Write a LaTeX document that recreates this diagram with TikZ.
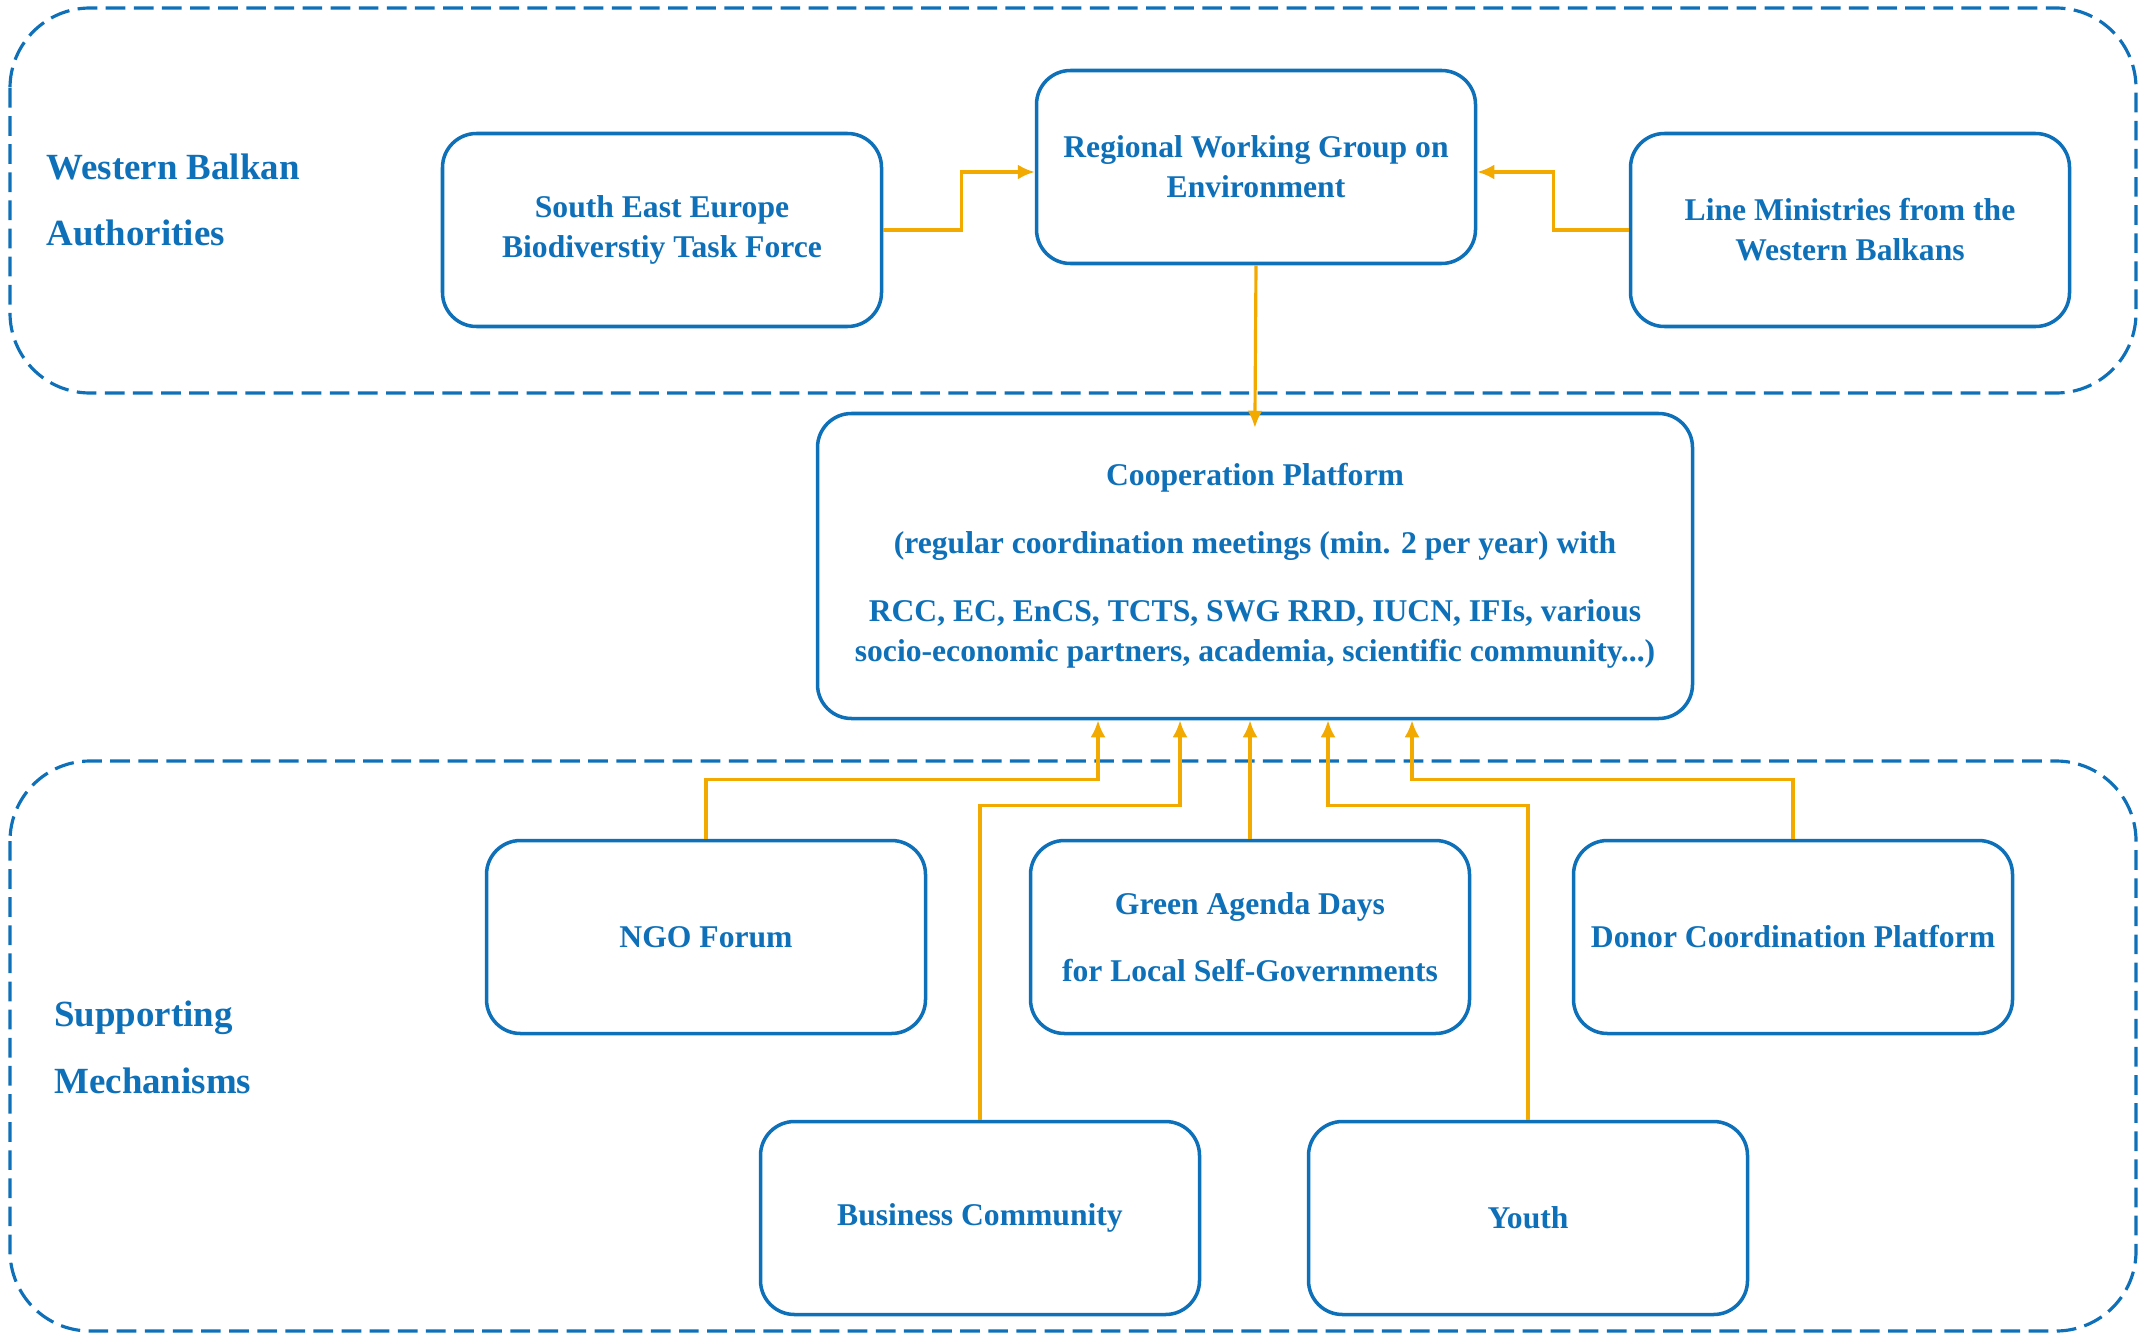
\documentclass[tikz,border=0pt]{standalone}
\usepackage{fontspec}
\setmainfont{Liberation Serif}
\usetikzlibrary{arrows.meta,positioning,calc}
\definecolor{wbblue}{HTML}{0E70B8}
\definecolor{wborange}{HTML}{F2AA00}

\begin{document}
\begin{tikzpicture}[
  box/.style={draw=wbblue, line width=1pt, rounded corners=0.34cm, minimum width=4.39cm, minimum height=1.93cm, align=center, text=wbblue, font=\bfseries\fontsize{9}{11.4}\selectfont},
  area/.style={draw=wbblue, line width=0.9pt, dash pattern=on 5.6pt off 2.4pt, rounded corners=0.8cm},
  lbl/.style={text=wbblue, align=left, anchor=west, font=\bfseries\fontsize{10.5}{19}\selectfont},
  link/.style={draw=wborange, line width=0.9pt, -{Latex[length=1.7mm,width=1.5mm]}}
]
\useasboundingbox (0,0) rectangle (21.51,-13.34);

% Two dashed areas
\draw[area] (0.10,-0.08) rectangle (21.36,-3.93);
\draw[area] (0.10,-7.61) rectangle (21.36,-13.31);
\node[lbl] (wba) at (0.34,-2.00) {Western Balkan\\Authorities};
\node[lbl] (sup) at (0.42,-10.47) {Supporting\\Mechanisms};

% Authorities
\node[box] (see) at (6.62,-2.30) {South East Europe\\Biodiverstiy Task Force};
\node[box] (rwg) at (12.56,-1.67) {Regional Working Group on\\Environment};
\node[box] (lm) at (18.50,-2.30) {Line Ministries from the\\Western Balkans};

\draw[link] (see.east) -- ++(0.78,0) |- ([yshift=-0.05cm]rwg.west);
\draw[link] (lm.west) -- ++(-0.75,0) |- ([yshift=-0.05cm]rwg.east);

% Cooperation platform
\node[box, minimum width=8.75cm, minimum height=3.05cm] (coop) at (12.55,-5.66)
  {Cooperation Platform\\[8pt]
   (regular coordination meetings (min. 2 per year) with\\[8pt]
   RCC, EC, EnCS, TCTS, SWG RRD, IUCN, IFIs, various\\
   socio-economic partners, academia, scientific community...)};
\draw[link, shorten >=-1.6mm] (rwg.south) -- (coop.north);

% Supporting mechanisms
\node[box] (ngo) at (7.06,-9.37) {NGO Forum};
\node[box] (gad) at (12.50,-9.37) {Green Agenda Days\\[7.6pt]for Local Self-Governments};
\node[box] (donor) at (17.93,-9.37) {Donor Coordination Platform};
\node[box] (bus) at (9.80,-12.18) {Business Community};
\node[box] (youth) at (15.28,-12.18) {Youth};

\coordinate (in1) at ([xshift=-1.57cm]coop.south);
\coordinate (in2) at ([xshift=-0.75cm]coop.south);
\coordinate (in4) at ([xshift=0.73cm]coop.south);
\coordinate (in5) at ([xshift=1.57cm]coop.south);

\draw[link] (ngo.north) -- ++(0,0.59) -| (in1);
\draw[link] (bus.north) -- ++(0,3.14) -| (in2);
\draw[link] (gad.north) -- (gad.north |- coop.south);
\draw[link] (youth.north) -- ++(0,3.14) -| (in4);
\draw[link] (donor.north) -- ++(0,0.59) -| (in5);

\end{tikzpicture}
\end{document}
